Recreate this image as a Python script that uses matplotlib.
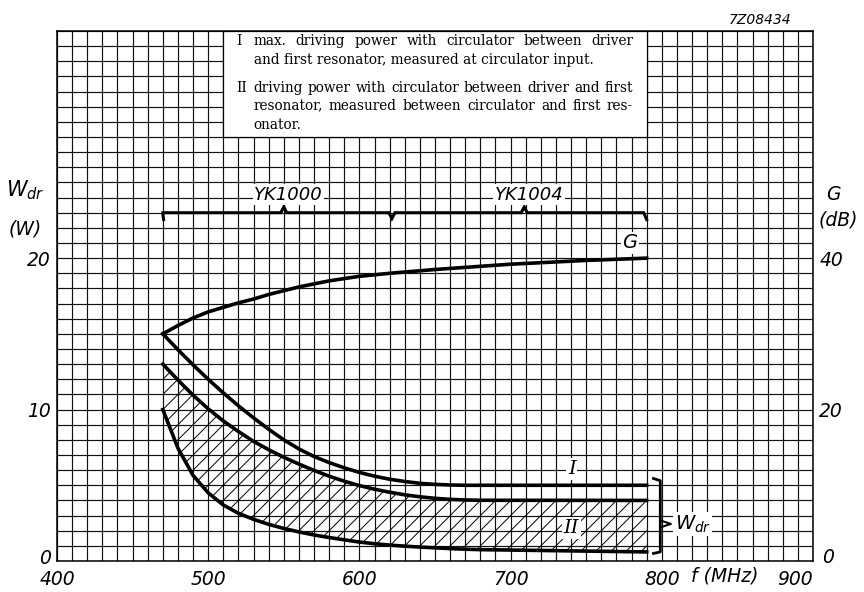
import numpy as np
import matplotlib
matplotlib.use('Agg')
import matplotlib.pyplot as plt
import matplotlib.transforms as mtrans
from matplotlib.patches import Rectangle
from matplotlib.collections import LineCollection

# curve data
f_g = [470, 480, 490, 500, 510, 520, 530, 540, 550, 560, 570, 580, 590, 600, 620, 650, 700, 750, 790]
g_db = [30.0, 31.1, 32.1, 32.9, 33.5, 34.1, 34.6, 35.2, 35.7, 36.2, 36.6, 37.0, 37.3, 37.6, 38.0, 38.5, 39.2, 39.7, 40.0]

f_w = [470, 480, 490, 500, 510, 520, 530, 540, 550, 560, 570, 580, 590, 600, 610, 620, 630, 640, 650, 660, 670, 680, 790]
w_I = [15.0, 13.95, 12.95, 12.0, 11.1, 10.25, 9.45, 8.7, 8.0, 7.4, 6.9, 6.5, 6.15, 5.85, 5.6, 5.4, 5.25, 5.13, 5.06, 5.02, 5.0, 5.0, 5.0]
w_II_up = [13.0, 11.95, 10.95, 10.05, 9.25, 8.55, 7.9, 7.35, 6.85, 6.4, 5.98, 5.6, 5.27, 4.98, 4.74, 4.54, 4.37, 4.24, 4.14, 4.07, 4.03, 4.01, 4.0]
w_II_low = [10.0, 7.45, 5.65, 4.5, 3.7, 3.15, 2.75, 2.42, 2.15, 1.92, 1.72, 1.55, 1.4, 1.25, 1.14, 1.05, 0.98, 0.92, 0.87, 0.82, 0.78, 0.75, 0.6]

# tube ranges bar
yk_start, yk_split, yk_end = 470, 621.5, 790
yk_marks = [550, 709]
yk_names = ['YK1000', 'YK1004']
yk_level = 23

x_ticks = [400, 500, 600, 700, 800, 900]
w_ticks = [0, 10, 20]
g_ticks = [0, 20, 40]

note_lines = [
    ('I', 'max. driving power with circulator between driver', True),
    ('', 'and first resonator, measured at circulator input.', False),
    ('II', 'driving power with circulator between driver and first', True),
    ('', 'resonator, measured between circulator and first res-', True),
    ('', 'onator.', False),
]

plt.rcParams['font.family'] = 'DejaVu Sans'
plt.rcParams['mathtext.fontset'] = 'dejavusans'

fig = plt.figure(figsize=(8.64, 5.92), dpi=100)
ax = fig.add_axes([57/864, 31/592, 756/864, 530/592])
ax.set_xlim(400, 900)
ax.set_ylim(0, 35)

ax.set_xticks(x_ticks)
ax.set_xticklabels([str(t) for t in x_ticks])
ax.set_xticks(np.arange(400, 901, 10), minor=True)
ax.set_yticks(w_ticks)
ax.set_yticklabels([str(t) for t in w_ticks])
ax.set_yticks(np.arange(0, 36, 1), minor=True)
ax.grid(which='both', color='#111111', lw=0.85)
ax.tick_params(which='both', length=0)
ax.tick_params(axis='x', pad=6.5, labelsize=13.5)
ax.tick_params(axis='y', pad=4.5, labelsize=13.5)
for lbl in ax.get_xticklabels() + ax.get_yticklabels():
    lbl.set_fontstyle('italic')
ax.get_xticklabels()[-1].set_ha('right')
up3 = mtrans.ScaledTranslation(0, 3/72, fig.dpi_scale_trans)
ax.get_yticklabels()[0].set_transform(ax.get_yticklabels()[0].get_transform() + up3)
for s in ax.spines.values():
    s.set_linewidth(1.1)

ax2 = ax.twinx()
ax2.set_ylim(0, 70)
ax2.set_yticks(g_ticks)
ax2.set_yticklabels([str(t) for t in g_ticks])
ax2.tick_params(length=0, pad=4.5, labelsize=13.5)
for lbl in ax2.get_yticklabels():
    lbl.set_fontstyle('italic')
up5 = mtrans.ScaledTranslation(2/72, 4/72, fig.dpi_scale_trans)
ax2.get_yticklabels()[0].set_transform(ax2.get_yticklabels()[0].get_transform() + up5)
for s in ax2.spines.values():
    s.set_visible(False)

# curves
ax2.plot(f_g, g_db, color='black', lw=2.6, solid_joinstyle='round')
ax.plot(f_w, w_I, color='black', lw=2.6, solid_joinstyle='round')
ax.plot(f_w, w_II_up, color='black', lw=2.6, solid_joinstyle='round')
ax.plot(f_w, w_II_low, color='black', lw=2.6, solid_joinstyle='round')

# hatched band II
band = ax.fill_between(f_w, w_II_low, w_II_up, facecolor='none', edgecolor='none')
segs = [[(c, 0), (c + 350, 35)] for c in np.arange(100, 800, 10)]
hatch = LineCollection(segs, colors='black', linewidths=0.7, zorder=2.6)
ax.add_collection(hatch, autolim=False)
hatch.set_clip_path(band.get_paths()[0], ax.transData)

# YK range bar
d = 2
bx = [yk_start + 0.5, yk_start, yk_start]
by = [yk_level - 0.45, yk_level - 0.1, yk_level]
for m, up in [(yk_marks[0], 1), (yk_split, -1), (yk_marks[1], 1)]:
    bx += [m - d, m, m + d]
    by += [yk_level, yk_level + up * 0.38, yk_level]
bx += [yk_end - 2, yk_end]
by += [yk_level, yk_level - 0.45]
ax.plot(bx, by, color='black', lw=2.2, solid_joinstyle='miter')
for m, name in zip(yk_marks, yk_names):
    ax.text(m + 3, yk_level + 1.2, name, ha='center', va='center', fontsize=13,
            style='italic', zorder=5,
            bbox=dict(fc='white', ec='none', pad=1.0))

# curve labels
lab = dict(ha='center', va='center', zorder=5, bbox=dict(fc='white', ec='none', pad=1.2))
ax.text(779, 21.0, 'G', fontsize=14, style='italic', **lab)
ax.text(740.5, 6.08, 'I', fontsize=14, style='italic', family='DejaVu Serif', **lab)
ax.text(740, 2.18, 'II', fontsize=14, style='italic', family='DejaVu Serif', **lab)

# bracket on the right
ax.plot([794.5, 799, 799, 794.5], [5.45, 5.3, 0.6, 0.5], color='black', lw=2.0)
ax.plot([799, 806, 799], [2.68, 2.45, 2.22], color='black', lw=1.5)
ax.text(808.5, 2.44, r'$W_{dr}$', fontsize=14, ha='left', va='center', zorder=5,
        bbox=dict(fc='white', ec='none', pad=1.0))

# note box
ax.add_patch(Rectangle((510, 28), 280, 7, facecolor='white', edgecolor='black',
                       lw=0.9, zorder=3))
renderer = fig.canvas.get_renderer()
x_num, x_txt, x_end = 518.8, 530.0, 781.0
ys = [34.08, 32.83, 31.0, 29.79, 28.53]
tk = dict(fontsize=9.8, family='DejaVu Serif', va='baseline', ha='left', zorder=4)
for (num, line, just), y in zip(note_lines, ys):
    if num:
        ax.text(x_num, y, num, **tk)
    if not just:
        ax.text(x_txt, y, line, **tk)
        continue
    words = line.split()
    ts = [ax.text(x_txt, y, w, **tk) for w in words]
    ws = [t.get_window_extent(renderer).width for t in ts]
    p0 = ax.transData.transform((x_txt, y))[0]
    p1 = ax.transData.transform((x_end, y))[0]
    gap = (p1 - p0 - sum(ws)) / (len(ws) - 1)
    px = p0
    inv = ax.transData.inverted()
    for t, w in zip(ts, ws):
        t.set_x(inv.transform((px, 0))[0])
        px += w + gap

# axis titles
fig.text(25/864, 1 - 190/592, r'$W_{dr}$', fontsize=15, ha='center', va='center')
fig.text(25/864, 1 - 229/592, '(W)', fontsize=13.5, style='italic', ha='center', va='center')
fig.text(833/864, 1 - 195/592, 'G', fontsize=13.5, style='italic', ha='center', va='center')
fig.text(838/864, 1 - 220/592, '(dB)', fontsize=13.5, style='italic', ha='center', va='center')
fig.text(725/864, 1 - 576/592, 'f (MHz)', fontsize=13.5, style='italic', ha='center', va='center')
fig.text(760/864, 1 - 20/592, '7Z08434', fontsize=10, style='italic', ha='center', va='center')

fig.savefig('out.png', dpi=100)
